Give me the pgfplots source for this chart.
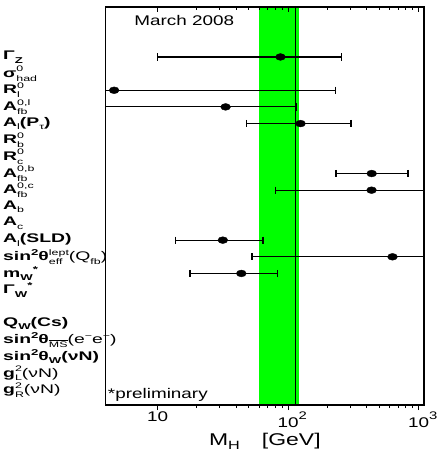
\documentclass[border=0pt]{standalone}
\usepackage{fontspec}
\setmainfont{Liberation Sans}[FakeStretch=1.35]
\newfontfamily\labfont{Liberation Sans}[FakeStretch=1.55]
\usepackage{amsmath}
\usepackage{pgfplots}
\pgfplotsset{compat=1.18}
\definecolor{bandgreen}{RGB}{0,255,0}

% small indices for the row labels
\newcommand{\sfs}{\fontsize{8}{8}\selectfont\mdseries}
\newcommand{\sfb}{\fontsize{8.5}{8.5}\selectfont}
\newcommand{\up}[1]{\raisebox{5.5pt}{\sfs #1}}
\newcommand{\dn}[1]{\raisebox{-3.8pt}{\sfs #1}}
\newcommand{\upb}[1]{\raisebox{5pt}{\sfb #1}}
\newcommand{\dnb}[1]{\raisebox{-3.5pt}{\sfb #1}}
\newcommand{\ud}[2]{\begingroup\sbox0{\sfs #1}\sbox2{\sfs #2}%
  \ifdim\wd0>\wd2\relax\rlap{\raisebox{-3.8pt}{\usebox2}}\raisebox{5.5pt}{\usebox0}%
  \else\rlap{\raisebox{5.5pt}{\usebox0}}\raisebox{-3.8pt}{\usebox2}\fi\endgroup}
\newcommand{\rg}[1]{{\mdseries #1}}
\newcommand{\ex}[1]{\rlap{\raisebox{0.62em}{\fontsize{11}{11}\selectfont #1}}}

\begin{document}
\begin{tikzpicture}
\begin{axis}[
  name=main,
  scale only axis,
  width=318.3pt, height=398pt,
  xmode=log, xmin=4, xmax=1100,
  y dir=reverse, ymin=-2, ymax=21.9,
  axis line style={line width=1.3pt},
  xtick={10,100,1000},
  xticklabels={10,10\ex{2},10\ex{3}},
  xtick pos=left,
  tick align=outside,
  major tick length=5pt, minor tick length=3pt,
  every tick/.style={black, line width=1pt},
  xticklabel style={font=\fontsize{14}{16}\selectfont, yshift=2pt},
  ytick={1,...,21},
  ytick style={draw=none},
  yticklabels={
    {Γ\dnb{Z}},
    {σ\ud{0}{had}},
    {R\ud{0}{l}},
    {A\ud{0,l}{fb}},
    {A\dn{l}(P\dn{τ})},
    {R\ud{0}{b}},
    {R\ud{0}{c}},
    {A\ud{0,b}{fb}},
    {A\ud{0,c}{fb}},
    {A\dn{b}},
    {A\dn{c}},
    {A\dn{l}(SLD)},
    {sin\upb{2}θ\ud{lept}{eff}\rg{(Q\dn{fb})}},
    {m\dnb{W}\upb{*}},
    {Γ\dnb{W}\upb{*}},
    {},
    {Q\dnb{W}(Cs)},
    {sin\upb{2}θ\dn{$\overline{\text{MS}}$}\rg{(e\up{−}e\up{−})}},
    {sin\upb{2}θ\dnb{W}(νN)},
    {g\ud{2}{L}\rg{(νN)}},
    {g\ud{2}{R}\rg{(νN)}}
  },
  yticklabel style={font=\labfont\fontsize{12.5}{14}\selectfont\bfseries, text width=94pt, align=left},
  xlabel={M\raisebox{-4pt}{\fontsize{12}{12}\selectfont H}\hspace{1.3em}[GeV]},
  xlabel style={font=\fontsize{17}{19}\selectfont, yshift=2pt},
]
% fitted M_H band and direct limit
\addplot[fill=bandgreen, draw=none] coordinates {(60,-2) (122,-2) (122,21.9) (60,21.9)} -- cycle;
\addplot[black, line width=1.8pt] coordinates {(114,-2) (114,21.9)};

% M_H ranges preferred by each observable (clipped at the frame)
\pgfplotsset{range/.style={black, line width=1.1pt}}
\addplot[range] coordinates {(10,1) (257,1)};
\addplot[range] coordinates {(1,3) (232,3)};
\addplot[range] coordinates {(1,4) (116,4)};
\addplot[range] coordinates {(47.9,5) (303,5)};
\addplot[range] coordinates {(233,8) (828,8)};
\addplot[range] coordinates {(80.4,9) (10000,9)};
\addplot[range] coordinates {(13.8,12) (64.2,12)};
\addplot[range] coordinates {(52.8,13) (10000,13)};
\addplot[range] coordinates {(17.7,14) (82.9,14)};
% end caps
\addplot[only marks, mark=|, mark size=3.6pt, mark options={line width=1.2pt}] coordinates {
  (10,1) (257,1) (232,3) (116,4) (47.9,5) (303,5) (233,8) (828,8)
  (80.4,9) (13.8,12) (64.2,12) (52.8,13) (17.7,14) (82.9,14)};
% central values
\addplot[only marks, mark=*, mark size=3.4pt, mark options={xscale=1.45, fill=black}] coordinates {
  (87.4,1) (4.64,3) (33.2,4) (124.5,5) (437,8) (436,9) (31.6,12) (631,13) (43.8,14)};

\node[anchor=center, font=\fontsize{14}{16}\selectfont] at (axis cs:16,-1.2) {March 2008};
\node[anchor=west, inner sep=0pt, font=\fontsize{14}{16}\selectfont] at (axis cs:4.15,21.3) {*preliminary};
\end{axis}
% second pass: frame on top of the band, top ticks pointing inward
\begin{axis}[
  scale only axis,
  width=318.3pt, height=398pt,
  xmode=log, xmin=4, xmax=1100,
  ymin=0, ymax=1,
  axis line style={line width=1.3pt},
  xtick={10,100,1000}, xticklabels={},
  xtick pos=right, tick align=inside,
  major tick length=5pt, minor tick length=3pt,
  every tick/.style={black, line width=1pt},
  ytick=\empty,
]
\end{axis}
\pgfresetboundingbox
\path ([shift={(-105.7pt,-48pt)}]main.south west) rectangle ([shift={(19pt,7pt)}]main.north east);
\end{tikzpicture}
\end{document}
